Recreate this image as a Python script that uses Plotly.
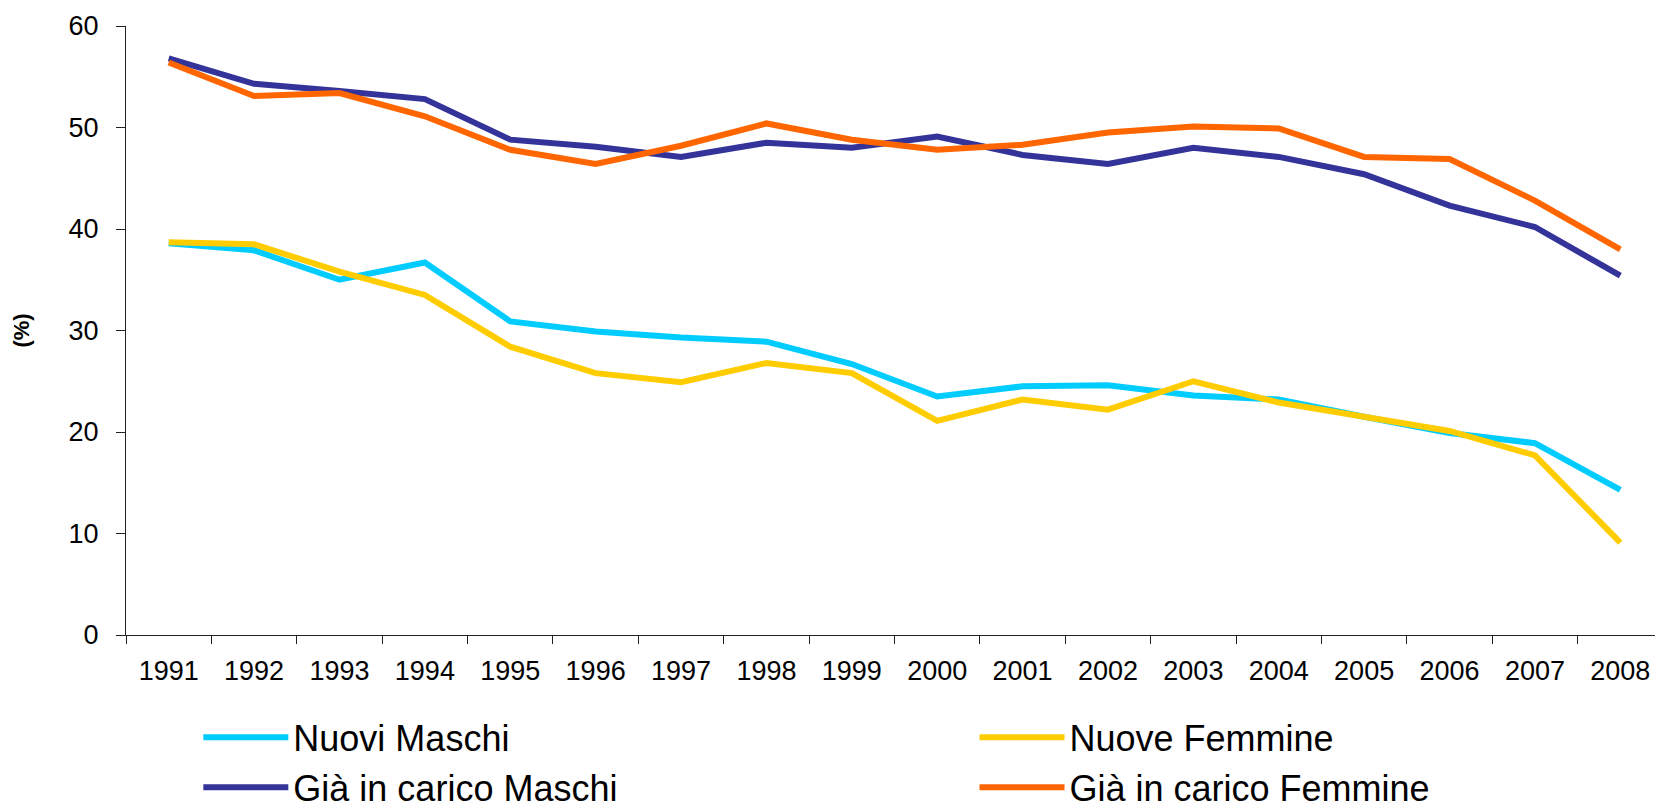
import plotly.graph_objects as go

anni = ['1991', '1992', '1993', '1994', '1995', '1996', '1997', '1998', '1999',
        '2000', '2001', '2002', '2003', '2004', '2005', '2006', '2007', '2008']

nuovi_maschi = [38.6, 37.9, 35.0, 36.7, 30.9, 29.9, 29.3, 28.9, 26.7,
                23.5, 24.5, 24.6, 23.6, 23.2, 21.5, 19.9, 18.9, 14.3]
nuove_femmine = [38.7, 38.5, 35.8, 33.5, 28.4, 25.8, 24.9, 26.8, 25.8,
                 21.1, 23.2, 22.2, 25.0, 22.9, 21.5, 20.1, 17.7, 9.1]
gia_maschi = [56.8, 54.3, 53.6, 52.8, 48.8, 48.1, 47.1, 48.5, 48.0,
              49.1, 47.3, 46.4, 48.0, 47.1, 45.4, 42.3, 40.2, 35.4]
gia_femmine = [56.4, 53.1, 53.4, 51.1, 47.8, 46.4, 48.2, 50.4, 48.8,
               47.8, 48.3, 49.5, 50.1, 49.9, 47.1, 46.9, 42.8, 38.0]

# nome, valori, colore, colonna della legenda
serie = [
    ('Nuovi Maschi', nuovi_maschi, '#00CCFF', 'legend'),
    ('Nuove Femmine', nuove_femmine, '#FFCC00', 'legend2'),
    ('Già in carico Maschi', gia_maschi, '#333399', 'legend'),
    ('Già in carico Femmine', gia_femmine, '#FF6600', 'legend2'),
]

fig = go.Figure()
for nome, valori, colore, leg in serie:
    fig.add_trace(go.Scatter(
        x=anni, y=valori, name=nome, mode='lines',
        line=dict(color=colore, width=6), legend=leg,
    ))

# la pagina ha 8px di margine nel body: figura un po' più piccola
legenda = dict(
    orientation='v', xref='container', yref='container',
    xanchor='left', y=0.118, yanchor='top',
    font=dict(size=36), itemwidth=85, tracegroupgap=0,
    bgcolor='rgba(0,0,0,0)',
)
fig.update_layout(
    width=1655, height=793,
    paper_bgcolor='white', plot_bgcolor='white',
    margin=dict(l=118, r=0, t=18, b=166, autoexpand=False),
    font=dict(family='Arial, Liberation Sans, sans-serif', color='black'),
    showlegend=True,
    legend=dict(legenda, x=0.115),
    legend2=dict(legenda, x=0.584),
)

# titolo asse y come annotazione (posizione fissa)
fig.add_annotation(
    text='<b>(%)</b>', textangle=-90, showarrow=False,
    xref='paper', yref='paper', x=-0.0683, y=0.5,
    xanchor='center', yanchor='middle', font=dict(size=22),
)

fig.update_xaxes(
    type='category', range=[-0.5, 17.5], automargin=False,
    showline=True, linecolor='#222', linewidth=1,
    ticks='outside', tickson='boundaries', ticklen=8, tickcolor='#222',
    tickfont=dict(size=27), ticklabelstandoff=12, tickangle=0,
    showgrid=False, zeroline=False,
)
fig.update_yaxes(
    range=[0, 60], dtick=10, automargin=False,
    showline=True, linecolor='#222', linewidth=1,
    ticks='outside', ticklen=9, tickcolor='#222',
    tickfont=dict(size=27), ticklabelstandoff=12,
    showgrid=False, zeroline=False,
)

fig.write_html('out.html')
